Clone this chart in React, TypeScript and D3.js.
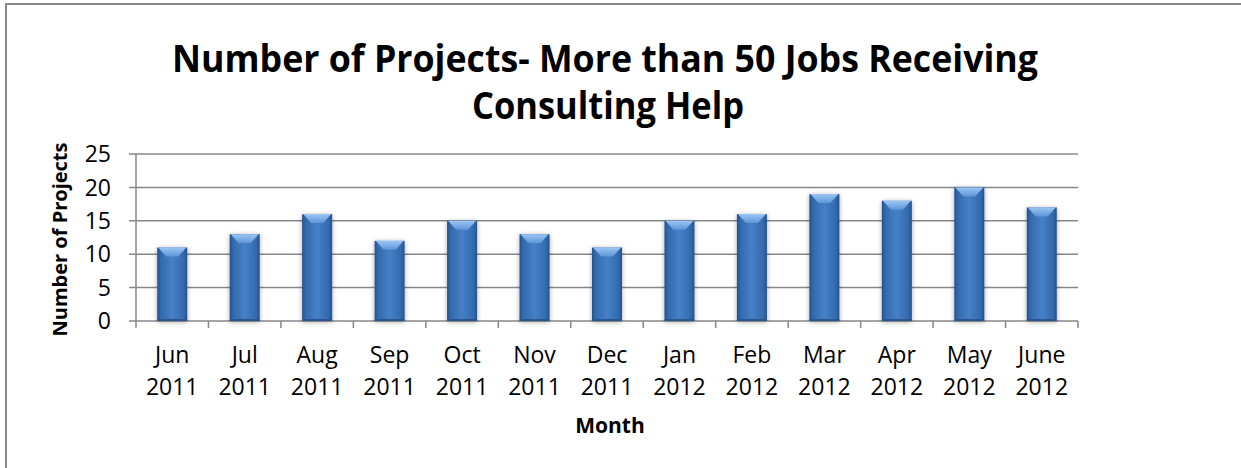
import React from "react";
import * as d3 from "d3";

const months = ["Jun", "Jul", "Aug", "Sep", "Oct", "Nov", "Dec", "Jan", "Feb", "Mar", "Apr", "May", "June"];
const years = ["2011", "2011", "2011", "2011", "2011", "2011", "2011", "2012", "2012", "2012", "2012", "2012", "2012"];
const projects = [11, 13, 16, 12, 15, 13, 11, 15, 16, 19, 18, 20, 17];
const yTicks = [0, 5, 10, 15, 20, 25];
const titleLines = ["Number of Projects- More than 50 Jobs Receiving", "Consulting Help"];
const xTitle = "Month";
const yTitle = "Number of Projects";

const W = 1241;
const H = 468;
const left = 136;
const right = 1078;
const top = 154;
const bottom = 321;
const font = "'Open Sans', 'Noto Sans', sans-serif";
const gridColor = "#878787";

export default function App() {
  const keys = months.map((m, i) => `${m} ${years[i]}`);
  const x = d3.scaleBand<string>().domain(keys).range([left, right]).paddingInner(0.586).paddingOuter(0.293);
  const y = d3.scaleLinear().domain([0, 25]).range([bottom, top]);
  const step = x.step();
  const bw = x.bandwidth();
  const boundaries = d3.range(months.length + 1).map((i) => left + i * step);

  return (
    <svg width={W} height={H} style={{ position: "absolute", left: 0, top: 0, background: "#fff" }}>
      <defs>
        <linearGradient id="barGrad" x1="0" x2="1" y1="0" y2="0">
          <stop offset="0%" stopColor="#25518c" />
          <stop offset="12%" stopColor="#336aae" />
          <stop offset="50%" stopColor="#4680c6" />
          <stop offset="88%" stopColor="#336aae" />
          <stop offset="100%" stopColor="#25518c" />
        </linearGradient>
        <linearGradient id="bevelGrad" x1="0" x2="0" y1="0" y2="1">
          <stop offset="0%" stopColor="#9cc6f4" />
          <stop offset="100%" stopColor="#5d95d8" />
        </linearGradient>
        <filter id="shadow" x="-30%" y="-10%" width="160%" height="125%">
          <feGaussianBlur in="SourceAlpha" stdDeviation="2.5" />
          <feOffset dx="0" dy="1" result="blur" />
          <feComponentTransfer>
            <feFuncA type="linear" slope="0.35" />
          </feComponentTransfer>
          <feMerge>
            <feMergeNode />
            <feMergeNode in="SourceGraphic" />
          </feMerge>
        </filter>
      </defs>

      <rect x={6} y={4} width={1400} height={700} fill="#fff" stroke="#8a8a8a" strokeWidth={2} />

      {/* Title */}
      <g fontFamily={font} fontWeight={700} fontSize={38} fill="#000" textAnchor="middle">
        <text x={605} y={72} textLength={866} lengthAdjust="spacingAndGlyphs">{titleLines[0]}</text>
        <text x={608} y={119} textLength={272} lengthAdjust="spacingAndGlyphs">{titleLines[1]}</text>
      </g>

      {/* Gridlines */}
      {yTicks.map((t) => (
        <line key={t} x1={left - 7} x2={right} y1={y(t)} y2={y(t)} stroke={gridColor} strokeWidth={1.5} />
      ))}
      {/* Y axis */}
      <line x1={left} x2={left} y1={top} y2={bottom} stroke={gridColor} strokeWidth={1.5} />
      {/* X ticks */}
      {boundaries.map((bx, i) => (
        <line key={i} x1={bx} x2={bx} y1={bottom} y2={bottom + 7} stroke={gridColor} strokeWidth={1.5} />
      ))}

      {/* Bars */}
      {projects.map((v, i) => {
        const x0 = x(keys[i])!;
        const yt = y(v);
        const bev = 9;
        return (
          <g key={i} filter="url(#shadow)">
            <rect x={x0} y={yt} width={bw} height={bottom - yt} fill="url(#barGrad)" />
            <polygon
              points={`${x0 + 1},${yt} ${x0 + bw - 1},${yt} ${x0 + bw * 0.7},${yt + bev} ${x0 + bw * 0.3},${yt + bev}`}
              fill="url(#bevelGrad)"
            />
            <rect x={x0} y={bottom - 2} width={bw} height={2} fill="#2a5590" />
          </g>
        );
      })}

      {/* Y tick labels */}
      <g fontFamily={font} fontSize={23} fill="#000" textAnchor="end">
        {yTicks.map((t) => (
          <text key={t} x={111} y={y(t)} dy="0.36em">{t}</text>
        ))}
      </g>

      {/* X tick labels */}
      <g fontFamily={font} fontSize={23} fill="#000" textAnchor="middle">
        {months.map((m, i) => {
          const cx = x(keys[i])! + bw / 2;
          return (
            <g key={i}>
              <text x={cx} y={363}>{m}</text>
              <text x={cx} y={395}>{years[i]}</text>
            </g>
          );
        })}
      </g>

      {/* Axis titles */}
      <text x={610} y={433} fontFamily={font} fontWeight={700} fontSize={21} textAnchor="middle">{xTitle}</text>
      <text
        transform={`translate(67, ${(top + bottom) / 2 + 2}) rotate(-90)`}
        fontFamily={font}
        fontWeight={700}
        fontSize={20}
        textAnchor="middle"
      >
        {yTitle}
      </text>
    </svg>
  );
}
